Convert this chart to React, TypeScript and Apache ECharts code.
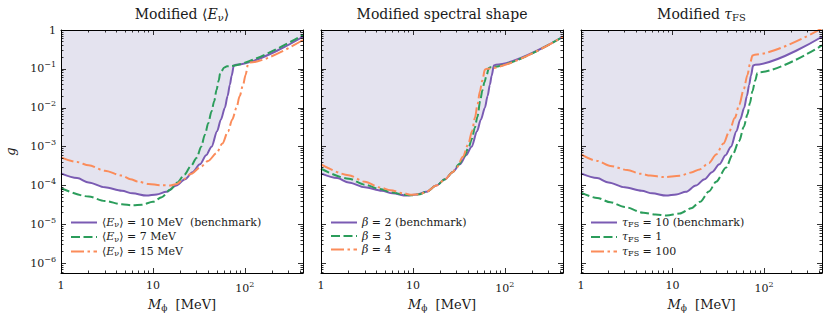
import React, { useEffect, useRef } from 'react';
import * as echarts from 'echarts';

// ---------- axes ----------
const X_MIN = 1;
const X_MAX = 430;
const Y_MIN_EXP = -6.25;
const Y_MAX = 1;
const X_TICK_EXP = [0, 1, 2];
const Y_TICK_EXP = [-6, -5, -4, -3, -2, -1, 0];

// ---------- titles / labels ----------
const TITLES = ['Modified ⟨{i|E}{sub|ν}⟩', 'Modified spectral shape', 'Modified {i|τ}{sub|FS}'];
const X_NAME = '{i|M}{sub|ϕ}  [MeV]';
const Y_NAME = 'g';

// ---------- data: panel 1 (modified <E_nu>) ----------
const BENCH_M = [1, 1.5, 2, 3, 4.6, 6, 8.5, 11, 14, 18, 22.4, 27, 32.5, 38, 43.5, 50, 55, 60.7, 65, 68.8, 72, 76, 80, 430];
const BENCH_G = [2.05e-4, 1.55e-4, 1.2e-4, 9.0e-5, 7.3e-5, 6.3e-5, 5.5e-5, 5.9e-5, 6.9e-5, 1.0e-4, 1.45e-4, 2.2e-4, 3.5e-4, 6.0e-4, 1.0e-3, 2.5e-3, 5.0e-3, 1.0e-2, 2.0e-2, 3.9e-2, 6.7e-2, 0.122, 0.128, 0.67];

const E7_M = [1, 2, 3, 4.6, 6, 7.6, 10, 12.5, 15.4, 18.5, 22, 26, 30, 33.5, 36.9, 40, 43.5, 46.5, 49.3, 52, 54, 60, 64, 430];
const E7_G = [8.5e-5, 5.2e-5, 4.0e-5, 3.3e-5, 3.1e-5, 3.2e-5, 3.8e-5, 5.0e-5, 7.8e-5, 1.2e-4, 1.9e-4, 3.2e-4, 5.2e-4, 1.0e-3, 2.06e-3, 4.0e-3, 8.1e-3, 1.5e-2, 2.9e-2, 5.0e-2, 7.8e-2, 0.109, 0.116, 0.75];

const E15_M = [1, 1.5, 2, 3, 4.6, 5.7, 7, 9, 12, 15.4, 18.2, 21.5, 26, 32.5, 40, 49.3, 57, 65.9, 73, 81.3, 88, 95.8, 102, 109, 114, 430];
const E15_G = [5.3e-4, 4.0e-4, 3.3e-4, 2.4e-4, 1.8e-4, 1.45e-4, 1.25e-4, 1.1e-4, 1.02e-4, 1.0e-4, 1.1e-4, 1.45e-4, 2.0e-4, 2.9e-4, 4.3e-4, 6.8e-4, 1.2e-3, 2.5e-3, 5.0e-3, 1.0e-2, 2.0e-2, 3.9e-2, 7.0e-2, 0.14, 0.146, 0.555];

// ---------- data: panel 2 (modified spectral shape) ----------
const B3_M = [1, 2, 3, 4.4, 6, 8, 9.5, 12, 14, 18, 22.4, 27, 32, 36, 40, 44, 47, 50.5, 54, 57, 60, 63.5, 67, 70, 430];
const B3_G = [2.7e-4, 1.5e-4, 1.05e-4, 8.1e-5, 6.6e-5, 5.8e-5, 5.6e-5, 6.0e-5, 6.9e-5, 1.0e-4, 1.45e-4, 2.2e-4, 3.6e-4, 5.5e-4, 9.0e-4, 1.6e-3, 3.0e-3, 6.0e-3, 1.5e-2, 2.8e-2, 4.5e-2, 7.0e-2, 0.105, 0.11, 0.67];

const B4_M = [1, 2, 3, 4.4, 5.7, 7.9, 9.4, 12, 14, 18, 22.4, 27, 30, 35, 40, 44, 47.3, 50.5, 53.6, 57, 60.7, 64, 430];
const B4_G = [3.5e-4, 1.85e-4, 1.25e-4, 8.9e-5, 7.6e-5, 6.3e-5, 5.8e-5, 6.0e-5, 6.9e-5, 1.0e-4, 1.45e-4, 2.2e-4, 2.9e-4, 5.5e-4, 1.15e-3, 2.5e-3, 5.5e-3, 1.2e-2, 2.65e-2, 5.0e-2, 0.096, 0.101, 0.67];

// ---------- data: panel 3 (modified tau_FS) ----------
const T1_M = [1, 1.5, 2.1, 3, 4.8, 6.5, 8.6, 12, 16, 20, 25, 30, 38.5, 45, 53.6, 60, 65.9, 70, 74.7, 80, 84.6, 89, 430];
const T1_G = [6.6e-5, 4.8e-5, 3.7e-5, 2.8e-5, 2.0e-5, 1.8e-5, 1.7e-5, 1.9e-5, 2.6e-5, 3.8e-5, 7.0e-5, 1.25e-4, 2.9e-4, 6.0e-4, 1.4e-3, 3.2e-3, 6.7e-3, 1.3e-2, 2.65e-2, 5.0e-2, 0.078, 0.082, 0.4];

const T100_M = [1, 1.5, 2.1, 3.2, 4.5, 5.7, 8, 12, 16, 19.8, 25, 30, 36, 41.8, 48, 53.6, 60, 65.9, 70, 74.7, 79, 430];
const T100_G = [6.3e-4, 4.3e-4, 3.2e-4, 2.5e-4, 2.0e-4, 1.8e-4, 1.65e-4, 1.78e-4, 2.15e-4, 2.6e-4, 3.8e-4, 6.3e-4, 1.2e-3, 2.5e-3, 5.5e-3, 1.2e-2, 3.0e-2, 7.0e-2, 0.13, 0.22, 0.232, 1.1];

// ---------- legend names ----------
const NAMES_1 = ['E10 (benchmark)', 'E7', 'E15'];
const LABELS_1 = ['⟨{i|E}{sub|ν}⟩ = 10 MeV  (benchmark)', '⟨{i|E}{sub|ν}⟩ = 7 MeV', '⟨{i|E}{sub|ν}⟩ = 15 MeV'];
const NAMES_2 = ['beta2 (benchmark)', 'beta3', 'beta4'];
const LABELS_2 = ['{i|β} = 2 (benchmark)', '{i|β} = 3', '{i|β} = 4'];
const NAMES_3 = ['tau10 (benchmark)', 'tau1', 'tau100'];
const LABELS_3 = ['{i|τ}{sub|FS} = 10 (benchmark)', '{i|τ}{sub|FS} = 1', '{i|τ}{sub|FS} = 100'];

// ---------- style ----------
const FONT = "'DejaVu Serif', 'Liberation Serif', serif";
const TXT = '#1a1a1a';
const PURPLE = '#7a5bb3';
const GREEN = '#2b9d5b';
const ORANGE = '#fb8c5a';
const FILL = '#e4e3ef';
const GRID_LEFTS = [61, 321, 581];
const GRID_W = [242, 242, 241];
const GRID_TOP = 30;
const GRID_H = 243;

const zip = (a: number[], b: number[]) => a.map((v, i) => [v, b[i]]);

const richText = (size: number) => ({
  i: { fontFamily: FONT, fontSize: size, fontStyle: 'italic', color: TXT, fill: TXT },
  sub: { fontFamily: FONT, fontSize: Math.round(size * 0.72), color: TXT, fill: TXT, padding: [size * 0.45, 0, 0, 0] },
});

const tickRich = {
  b: { fontFamily: FONT, fontSize: 11, color: TXT },
  s: { fontFamily: FONT, fontSize: 8, color: TXT, padding: [0, 0, 8, 0] },
};

function minorValues(fromExp: number, toExp: number, lo: number, hi: number) {
  const out: number[] = [];
  for (let d = fromExp; d <= toExp; d++) {
    for (let k = 2; k <= 9; k++) {
      const v = d + Math.log10(k);
      if (v > lo && v < hi) out.push(v);
    }
  }
  return out;
}

export default function App() {
  const ref = useRef<HTMLDivElement>(null);
  useEffect(() => {
    document.body.style.margin = '0';
    if (!ref.current) return;
    const chart = echarts.init(ref.current, undefined, { renderer: 'svg' });

    const XL = Math.log10(X_MAX);
    const YL = Y_MIN_EXP;
    const xMinor = minorValues(0, 2, 0, XL);
    const yMinor = minorValues(-7, -1, YL, 0);

    const lineCol = { color: '#000', width: 1 };
    const tickCol = { color: '#000', width: 0.8 };

    const xAxis: any[] = [];
    const yAxis: any[] = [];
    const grid: any[] = [];
    for (let i = 0; i < 3; i++) {
      grid.push({ left: GRID_LEFTS[i], top: GRID_TOP, width: GRID_W[i], height: GRID_H, outerBoundsMode: 'none', containLabel: false });
      const bx = { type: 'value', gridIndex: i, min: 0, max: XL, splitLine: { show: false }, axisLabel: { show: false }, silent: true, z: 10 };
      xAxis.push(
        { type: 'log', logBase: 10, gridIndex: i, min: X_MIN, max: X_MAX, show: false, axisLine: { onZero: false } },
        {
          ...bx, position: 'bottom',
          axisLine: { show: true, onZero: false, lineStyle: lineCol },
          axisTick: { show: true, inside: true, length: 5, customValues: X_TICK_EXP, lineStyle: tickCol },
          axisLabel: {
            show: true, customValues: X_TICK_EXP, margin: 7,
            formatter: (v: number) => (Math.round(v) === 0 ? '{b|1}' : Math.round(v) === 1 ? '{b|10}' : `{b|10}{s|${Math.round(v)}}`),
            rich: tickRich,
          },
          name: X_NAME, nameLocation: 'middle', nameGap: 23,
          nameTextStyle: { fontFamily: FONT, fontSize: 13, color: TXT, rich: richText(13) },
        },
        { ...bx, position: 'bottom', axisLine: { show: false, onZero: false }, axisTick: { show: true, inside: true, length: 2.5, customValues: xMinor, lineStyle: tickCol } },
        { ...bx, position: 'top', axisLine: { show: true, onZero: false, lineStyle: lineCol }, axisTick: { show: true, inside: true, length: 5, customValues: X_TICK_EXP, lineStyle: tickCol } },
        { ...bx, position: 'top', axisLine: { show: false, onZero: false }, axisTick: { show: true, inside: true, length: 2.5, customValues: xMinor, lineStyle: tickCol } },
      );
      const by = { type: 'value', gridIndex: i, min: YL, max: 0, splitLine: { show: false }, axisLabel: { show: false }, silent: true, z: 10 };
      yAxis.push(
        { type: 'log', logBase: 10, gridIndex: i, min: Math.pow(10, YL), max: Y_MAX, show: false, axisLine: { onZero: false } },
        {
          ...by, position: 'left',
          axisLine: { show: true, onZero: false, lineStyle: lineCol },
          axisTick: { show: true, inside: true, length: 5, customValues: Y_TICK_EXP, lineStyle: tickCol },
          axisLabel: {
            show: i === 0, customValues: Y_TICK_EXP, margin: 5,
            formatter: (v: number) => (Math.round(v) === 0 ? '{b|1}' : `{b|10}{s|−${-Math.round(v)}}`),
            rich: tickRich,
          },
          ...(i === 0
            ? { name: Y_NAME, nameLocation: 'middle', nameGap: 44, nameRotate: 90, nameTextStyle: { fontFamily: FONT, fontSize: 13, fontStyle: 'italic', color: TXT } }
            : {}),
        },
        { ...by, position: 'left', axisLine: { show: false, onZero: false }, axisTick: { show: true, inside: true, length: 2.5, customValues: yMinor, lineStyle: tickCol } },
        { ...by, position: 'right', axisLine: { show: true, onZero: false, lineStyle: lineCol }, axisTick: { show: true, inside: true, length: 5, customValues: Y_TICK_EXP, lineStyle: tickCol } },
        { ...by, position: 'right', axisLine: { show: false, onZero: false }, axisTick: { show: true, inside: true, length: 2.5, customValues: yMinor, lineStyle: tickCol } },
      );
    }

    const panels = [
      { names: NAMES_1, labels: LABELS_1, sets: [[BENCH_M, BENCH_G], [E7_M, E7_G], [E15_M, E15_G]] },
      { names: NAMES_2, labels: LABELS_2, sets: [[BENCH_M, BENCH_G], [B3_M, B3_G], [B4_M, B4_G]] },
      { names: NAMES_3, labels: LABELS_3, sets: [[BENCH_M, BENCH_G], [T1_M, T1_G], [T100_M, T100_G]] },
    ];
    const colors = [PURPLE, GREEN, ORANGE];
    const dashes: any[] = ['solid', [9, 3.5], [13, 3.5, 2.5, 3.5]];

    const series: any[] = [];
    const legend: any[] = [];
    const labelMap: Record<string, string> = {};
    panels.forEach((p, i) => {
      p.sets.forEach((s, j) => {
        labelMap[p.names[j]] = p.labels[j];
        series.push({
          type: 'line',
          name: p.names[j],
          xAxisIndex: 5 * i,
          yAxisIndex: 5 * i,
          data: zip(s[0] as number[], s[1] as number[]),
          symbol: 'none',
          showSymbol: false,
          smooth: 0.3,
          smoothMonotone: 'x',
          color: colors[j],
          lineStyle: { color: colors[j], width: 2, type: dashes[j] },
          ...(j === 0 ? { areaStyle: { color: FILL, opacity: 1, origin: 'end' } } : {}),
          silent: true,
          z: 2 + j,
        });
      });
      legend.push({
        orient: 'vertical',
        left: GRID_LEFTS[i] + 9,
        top: 217,
        padding: 0,
        itemWidth: 26,
        itemHeight: 10,
        itemGap: 2.5,
        selectedMode: false,
        data: p.names.map((n, j) => ({
          name: n,
          itemStyle: { color: 'rgba(0,0,0,0)', opacity: 0, borderWidth: 0 },
          lineStyle: { color: colors[j], width: 2, type: dashes[j], opacity: 1 },
        })),
        formatter: (name: string) => labelMap[name],
        textStyle: { fontFamily: FONT, fontSize: 11, color: TXT, rich: richText(11) },
      });
    });

    const graphic = TITLES.map((t, i) => ({
      type: 'text',
      x: GRID_LEFTS[i] + GRID_W[i] / 2,
      y: 14,
      style: {
        text: t,
        fontFamily: FONT,
        fontSize: 14,
        fill: TXT,
        align: 'center',
        verticalAlign: 'middle',
        rich: {
          i: { fontFamily: FONT, fontSize: 14, fontStyle: 'italic', fill: TXT },
          sub: { fontFamily: FONT, fontSize: 10, fill: TXT, padding: [7, 0, 0, 0] },
        },
      },
    }));

    chart.setOption({
      animation: false,
      backgroundColor: '#fff',
      grid,
      xAxis,
      yAxis,
      legend,
      series,
      graphic,
    });
    return () => chart.dispose();
  }, []);
  return <div ref={ref} style={{ width: 830, height: 317 }} />;
}
